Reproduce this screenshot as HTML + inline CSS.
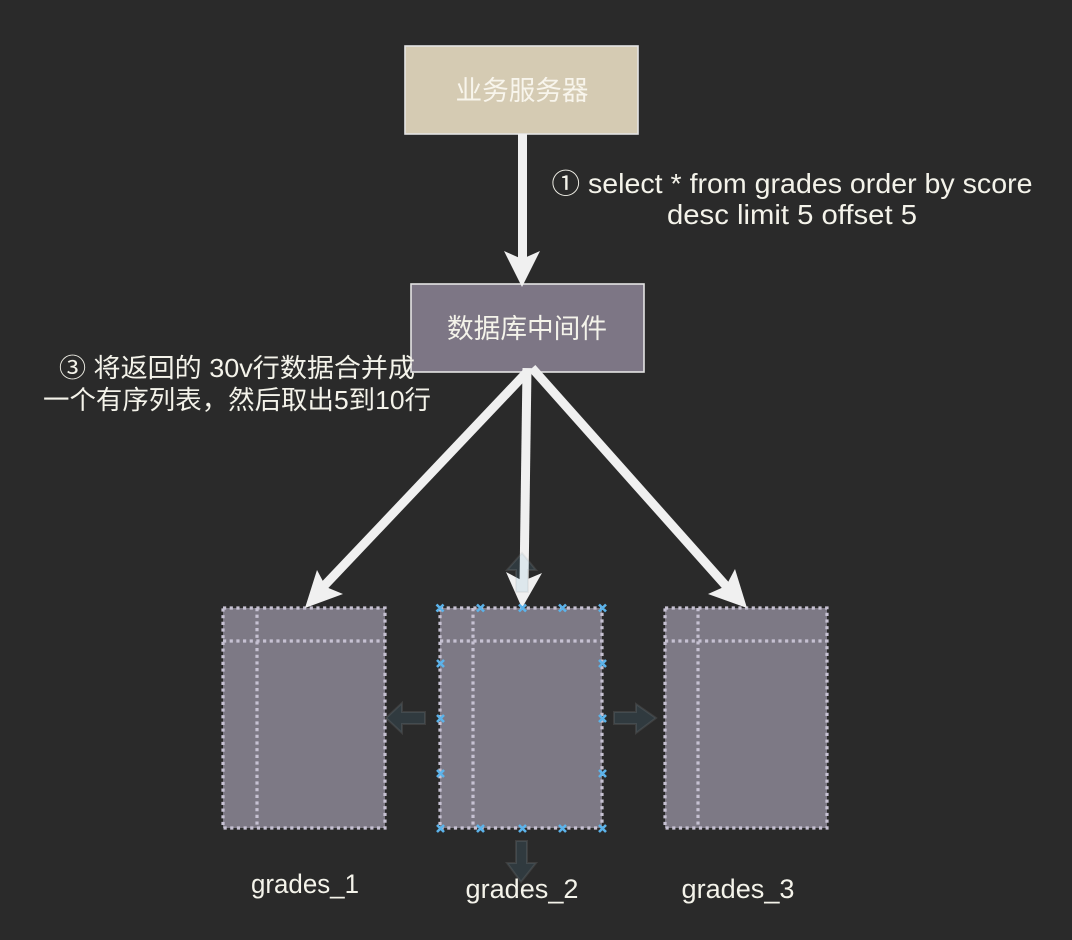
<!DOCTYPE html>
<html>
<head>
<meta charset="utf-8">
<style>
html,body{margin:0;padding:0;background:#2a2a2a;}
svg{display:block;}
text{font-family:"Liberation Sans","Noto Sans CJK SC",sans-serif;fill:#f4f3ea;}
.tb{fill:#7d7985;}
.d{fill:none;stroke:#c6c1d2;stroke-width:3.2;stroke-dasharray:3.2 3.47;}
.a{fill:#f0f0f0;}
.s{stroke:#f0f0f0;stroke-width:9;fill:none;}
.g{fill:#5aa8d0;fill-opacity:.13;stroke:#aaa;stroke-opacity:.16;stroke-width:2;}
.x{stroke:#5cb3ea;stroke-width:2.6;fill:none;}
</style>
</head>
<body>
<svg width="1072" height="940" viewBox="0 0 1072 940" xmlns="http://www.w3.org/2000/svg">
<rect width="1072" height="940" fill="#2a2a2a"/>

<rect x="405" y="46" width="233" height="88" fill="#d5cbb3" stroke="#e4e4e4" stroke-width="1.6"/>
<text x="522" y="100" font-size="27" text-anchor="middle" textLength="133" lengthAdjust="spacingAndGlyphs" style="fill:#f8f5ec">业务服务器</text>

<rect x="411" y="284" width="233" height="88" fill="#7d7685" stroke="#e4e4e4" stroke-width="1.6"/>
<text x="527" y="338" font-size="27" text-anchor="middle" textLength="160" lengthAdjust="spacingAndGlyphs">数据库中间件</text>

<text x="792" y="193" font-size="27.5" text-anchor="middle" textLength="481" lengthAdjust="spacingAndGlyphs">① select * from grades order by score</text>
<text x="792" y="224" font-size="27.5" text-anchor="middle" textLength="250" lengthAdjust="spacingAndGlyphs">desc limit 5 offset 5</text>

<text x="237" y="377" font-size="26" text-anchor="middle" textLength="356" lengthAdjust="spacingAndGlyphs">③ 将返回的 30v行数据合并成</text>
<text x="237" y="409" font-size="26" text-anchor="middle" textLength="388" lengthAdjust="spacingAndGlyphs">一个有序列表，然后取出5到10行</text>

<!-- tables -->
<g>
<rect class="tb" x="223" y="608" width="162" height="220"/>
<path class="d" d="M223 608H385V828H223Z M223 641H385 M257 608V828"/>
<rect class="tb" x="440" y="608" width="162" height="220"/>
<path class="d" d="M440 608H602V828H440Z M440 641H602 M473 608V828"/>
<rect class="tb" x="665" y="608" width="162" height="220"/>
<path class="d" d="M665 608H827V828H665Z M665 641H827 M698 608V828"/>
</g>

<!-- arrows -->
<path class="s" d="M522.5 134V262"/>
<polygon class="a" points="522,287 504,251 522,259 540,251"/>

<path class="s" d="M527 368L524 584"/>
<polygon class="a" points="522,608 506,572 523,581 542,573"/>

<path class="s" d="M527 372L324 586"/>
<polygon class="a" points="305,608 317,570 326,587 343,594"/>

<path class="s" d="M532 368L727 587"/>
<polygon class="a" points="747,608 708,594 726,586 735,569"/>

<!-- ghost arrows -->
<polygon class="g" points="522,553 536,570 528,570 528,592 516,592 516,570 507,570"/>
<polygon class="g" points="386,718 402,703 402,712 425,712 425,724 402,724 402,733"/>
<polygon class="g" points="656,718 636,704 636,712 614,712 614,724 636,724 636,733"/>
<polygon class="g" points="521,882 536,863 527,863 527,841 516,841 516,863 507,863"/>

<!-- connection points -->
<path class="x" d="M436.500 604.500l7 7m0-7l-7 7 M477 604.500l7 7m0-7l-7 7 M519 604.500l7 7m0-7l-7 7 M559 604.500l7 7m0-7l-7 7 M599 604.500l7 7m0-7l-7 7
M437 660l7 7m0-7l-7 7 M599 660l7 7m0-7l-7 7
M437 715l7 7m0-7l-7 7 M599 715l7 7m0-7l-7 7
M437 770l7 7m0-7l-7 7 M599 770l7 7m0-7l-7 7
M437 825l7 7m0-7l-7 7 M477 825l7 7m0-7l-7 7 M519 825l7 7m0-7l-7 7 M559 825l7 7m0-7l-7 7 M599 825l7 7m0-7l-7 7"/>

<text x="305" y="893" font-size="27" text-anchor="middle" textLength="108" lengthAdjust="spacingAndGlyphs">grades_1</text>
<text x="522" y="898" font-size="27" text-anchor="middle" textLength="113" lengthAdjust="spacingAndGlyphs">grades_2</text>
<text x="738" y="898" font-size="27" text-anchor="middle" textLength="113" lengthAdjust="spacingAndGlyphs">grades_3</text>
</svg>
</body>
</html>
